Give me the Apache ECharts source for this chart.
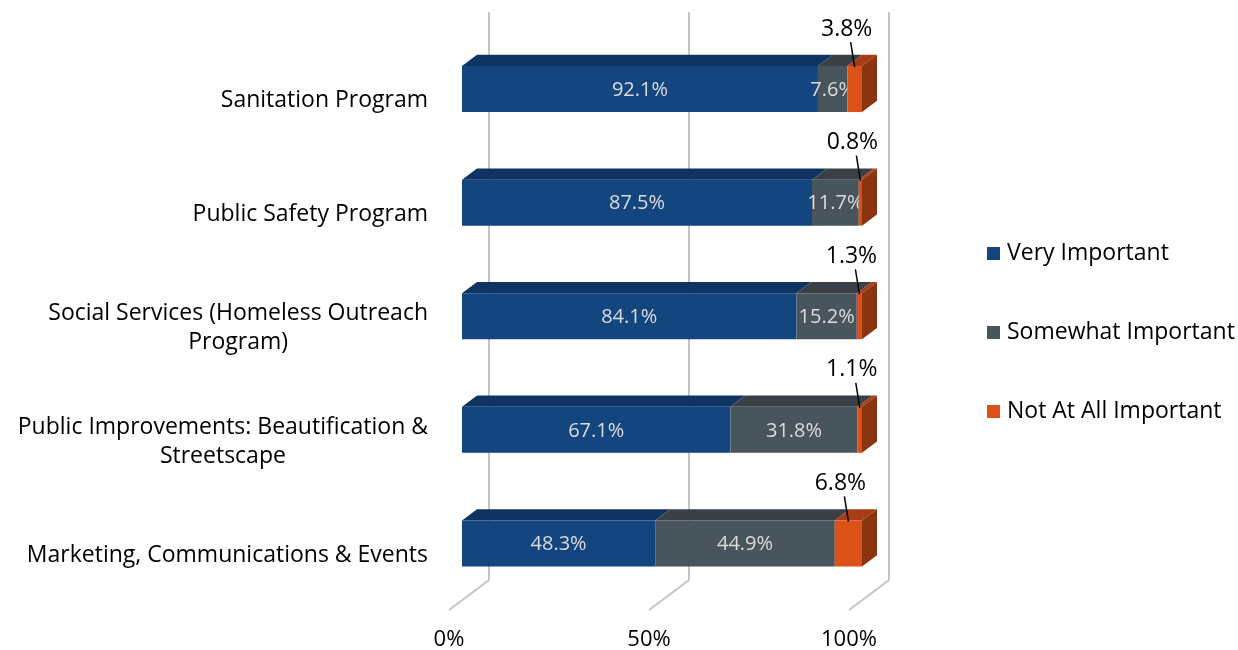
<!DOCTYPE html>
<html>
<head>
<meta charset="utf-8">
<script src="https://cdn.jsdelivr.net/npm/echarts@6/dist/echarts.min.js"></script>
<style>
html, body { margin: 0; padding: 0; background: #fff; }
#main { width: 1238px; height: 650px; }
</style>
</head>
<body>
<div id="main"></div>
<script>
// data
var categories = [
	'Sanitation Program',
	'Public Safety Program',
	'Social Services (Homeless Outreach\nProgram)',
	'Public Improvements: Beautification &\nStreetscape',
	'Marketing, Communications & Events'
];
var seriesNames = ['Very Important', 'Somewhat Important', 'Not At All Important'];
var veryImportant = [92.1, 87.5, 84.1, 67.1, 48.3];
var somewhatImportant = [7.6, 11.7, 15.2, 31.8, 44.9];
var notAtAll = [3.8, 0.8, 1.3, 1.1, 6.8];
var xTicks = [0, 50, 100];

var FONT = 'Open Sans';
var FS = 23;
// 3d look: depth of the floor and where the bars sit in it
var DEPTH_X = 40, DEPTH_Y = -30, D0 = 0.325, D1 = 0.7, BAR = 0.405;
var palette = [
	{ front: '#13457f', top: '#0f3461' },
	{ front: '#48555c', top: '#3a4146' },
	{ front: '#db5118', top: '#a83c15', side: '#8b3510' }
];

var rawSeries = [veryImportant, somewhatImportant, notAtAll];
var totals = categories.map(function (c, i) {
	return veryImportant[i] + somewhatImportant[i] + notAtAll[i];
});
// percent stacked, like the original
var segData = rawSeries.map(function (arr, k) {
	return arr.map(function (v, i) {
		var start = 0;
		for (var j = 0; j < k; j++) start += rawSeries[j][i] / totals[i] * 100;
		return [start, start + v / totals[i] * 100, i, v];
	});
});

var ctx = document.createElement('canvas').getContext('2d');
ctx.font = FS + 'px ' + FONT;
var labelWidths = categories.map(function (c) {
	return Math.max.apply(null, c.split('\n').map(function (l) { return ctx.measureText(l).width; }));
});

function makeRender(k) {
	return function (params, api) {
		var s = api.value(0), e = api.value(1), c = api.value(2), raw = api.value(3);
		var a = api.coord([s, c]), b = api.coord([e, c]);
		var h = api.size([0, 1])[1] * BAR;
		var ox = DEPTH_X * D0, oy = DEPTH_Y * D0;
		var bx = DEPTH_X * (D1 - D0), by = DEPTH_Y * (D1 - D0);
		var x0 = a[0] + ox, x1 = b[0] + ox;
		var y0 = a[1] + oy - h / 2, y1 = y0 + h;
		var col = palette[k];
		var kids = [
			{ type: 'polygon', shape: { points: [[x0, y0], [x1, y0], [x1 + bx, y0 + by], [x0 + bx, y0 + by]] },
				style: { fill: col.top } },
			{ type: 'rect', shape: { x: x0, y: y0, width: x1 - x0, height: h },
				style: { fill: col.front } }
		];
		if (k === 2) {
			kids.push({ type: 'polygon', shape: { points: [[x1, y0], [x1 + bx, y0 + by], [x1 + bx, y1 + by], [x1, y1]] },
				style: { fill: col.side } });
			var cx = (x0 + x1) / 2;
			kids.push({ type: 'line', shape: { x1: cx - 4, y1: y0 - 24, x2: cx, y2: y0 + 1 },
				style: { stroke: '#000', lineWidth: 1.5 } });
			kids.push({ type: 'text', style: { text: raw.toFixed(1) + '%', x: cx - 8, y: y0 - 37,
				align: 'center', verticalAlign: 'middle', fill: '#000', fontSize: FS, fontFamily: FONT } });
		} else {
			kids.push({ type: 'text', style: { text: raw.toFixed(1) + '%', x: (x0 + x1) / 2, y: (y0 + y1) / 2 + 1,
				align: 'center', verticalAlign: 'middle', fill: '#dcdcdc', fontSize: 20, fontFamily: FONT } });
		}
		return { type: 'group', children: kids };
	};
}

var myChart = echarts.init(document.getElementById('main'));

var series = [{
	// back wall + floor grid lines
	type: 'custom',
	silent: true,
	clip: false,
	z: 1,
	data: xTicks.map(function (t) { return [t, 0]; }),
	encode: { x: 0, y: 1 },
	renderItem: function (params, api) {
		var cs = params.coordSys;
		var x = api.coord([api.value(0), 0])[0];
		var bottom = cs.y + cs.height;
		return {
			type: 'group',
			children: [
				{ type: 'line', shape: { x1: x + DEPTH_X, y1: cs.y + DEPTH_Y, x2: x + DEPTH_X, y2: bottom + DEPTH_Y },
					style: { stroke: '#c4c4c4', lineWidth: 2 } },
				{ type: 'line', shape: { x1: x, y1: bottom, x2: x + DEPTH_X, y2: bottom + DEPTH_Y },
					style: { stroke: '#c4c4c4', lineWidth: 2 } }
			]
		};
	}
}, {
	// category labels, each line centred inside a right aligned block
	type: 'custom',
	silent: true,
	clip: false,
	data: categories.map(function (c, i) { return [0, i]; }),
	encode: { x: 0, y: 1 },
	renderItem: function (params, api) {
		var i = api.value(1);
		var p = api.coord([0, i]);
		return {
			type: 'text',
			style: { text: categories[i], x: p[0] - 21 - labelWidths[i] / 2, y: p[1] + 2,
				align: 'center', verticalAlign: 'middle', fill: '#000',
				fontSize: FS, lineHeight: 29, fontFamily: FONT }
		};
	}
}];

seriesNames.forEach(function (name, k) {
	series.push({
		name: name,
		type: 'custom',
		clip: false,
		z: 2,
		itemStyle: { color: palette[k].front },
		data: segData[k],
		encode: { x: [0, 1], y: 2 },
		renderItem: makeRender(k)
	});
});

var option = {
	animation: false,
	grid: { left: 449, top: 42, width: 400, height: 568, outerBoundsMode: 'none' },
	legend: {
		data: seriesNames,
		orient: 'vertical',
		left: 987,
		top: 242,
		padding: 0,
		icon: 'rect',
		itemWidth: 13,
		itemHeight: 13,
		itemGap: 56,
		textStyle: { fontSize: FS, color: '#000', lineHeight: 20, fontFamily: FONT, padding: [0, 0, 0, 2] }
	},
	xAxis: {
		type: 'value',
		min: 0,
		max: 100,
		interval: 50,
		splitLine: { show: false },
		axisLine: { show: false },
		axisTick: { show: false },
		axisLabel: { formatter: '{value}%', fontSize: 22, color: '#000', margin: 19, fontFamily: FONT }
	},
	yAxis: {
		type: 'category',
		data: categories,
		inverse: true,
		axisLabel: { show: false },
		axisLine: { show: false },
		axisTick: { show: false }
	},
	series: series
};

myChart.setOption(option);
</script>
</body>
</html>
